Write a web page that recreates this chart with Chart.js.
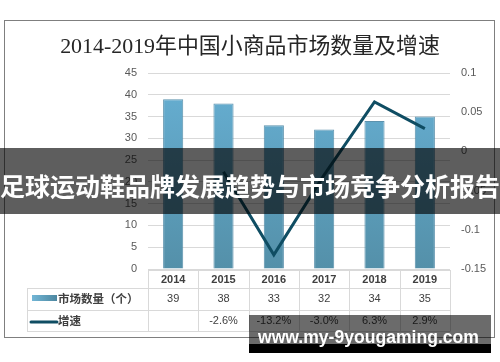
<!DOCTYPE html>
<html><head><meta charset="utf-8">
<script src="https://cdn.jsdelivr.net/npm/chart.js@4.4.1/dist/chart.umd.min.js"></script>
<style>
html,body{margin:0;padding:0;background:#fff;}
#wrap{position:relative;width:500px;height:362px;overflow:hidden;background:#fff;}
#c{position:absolute;left:0;top:0;}
#frame{position:absolute;left:4px;top:20px;width:491px;height:318px;box-sizing:border-box;border:1px solid #7f7f7f;pointer-events:none;}
#title{position:absolute;left:0;top:28px;width:500px;text-align:center;font-family:"Liberation Serif","Noto Sans CJK SC",serif;font-size:24px;color:#262626;white-space:nowrap;line-height:34px;}
#banner{position:absolute;left:0;top:148px;width:500px;height:66px;background:rgba(0,0,0,0.63);}
#banner span{position:absolute;left:0;top:0;width:500px;text-align:center;color:#fff;font-family:"Noto Sans CJK SC",sans-serif;font-weight:bold;font-size:25px;line-height:74px;white-space:nowrap;}
#wm{position:absolute;left:249px;top:315px;width:242px;height:38px;background:linear-gradient(to bottom,rgba(0,0,0,0.58) 0px,rgba(0,0,0,0.58) 29px,#000 29px,#000 38px);}
#wm span{position:absolute;left:9px;top:11px;color:#fff;font-family:"Liberation Sans",Arial,sans-serif;font-weight:bold;font-size:17.5px;line-height:22px;white-space:nowrap;}
</style></head>
<body>
<div id="wrap">
<canvas id="c" width="500" height="362"></canvas>
<div id="frame"></div>
<div id="title"><span id="tt">2014-2019年中国小商品市场数量及增速</span></div>
<div id="banner"><span>足球运动鞋品牌发展趋势与市场竞争分析报告</span></div>
<div id="wm"><span id="wmt">www.my-9yougaming.com</span></div>
</div>
<script>
const categories = ['2014','2015','2016','2017','2018','2019'];
const marketCount = [39, 38, 33, 32, 34, 35];
const growthRate = [null, -0.026, -0.132, -0.030, 0.063, 0.029];
const growthLabels = ['', '-2.6%', '-13.2%', '-3.0%', '6.3%', '2.9%'];
const seriesNames = ['市场数量（个）', '增速'];
const leftTicks = {min: 0, max: 45, step: 5};
const rightTicks = {min: -0.15, max: 0.1, step: 0.05};

const BAR_TOP = '#67b0d4', BAR_BOT = '#5490a9', LINE_C = '#0f4d63';

Chart.defaults.font.family = '"Liberation Sans","Noto Sans CJK SC",sans-serif';

function barGradient(ctx){
  const ch = ctx.chart; const a = ch.chartArea;
  if(!a) return BAR_TOP;
  const g = ch.ctx.createLinearGradient(0, a.top, 0, a.bottom);
  g.addColorStop(0, BAR_TOP); g.addColorStop(1, BAR_BOT);
  return g;
}

const tablePlugin = {
  id: 'dataTable',
  afterDraw(chart){
    const ctx = chart.ctx, a = chart.chartArea, xs = chart.scales.x;
    const n = categories.length;
    const colW = (a.right - a.left) / n;
    const top = a.bottom + 1, r1 = 288, r2 = 310, r3 = 331, legL = 27;
    ctx.save();
    ctx.strokeStyle = '#d9d9d9'; ctx.lineWidth = 1;
    ctx.beginPath();
    const hl = (x1,x2,y)=>{ctx.moveTo(x1, Math.round(y)+0.5); ctx.lineTo(x2, Math.round(y)+0.5);};
    const vl = (x,y1,y2)=>{ctx.moveTo(Math.round(x)+0.5, y1); ctx.lineTo(Math.round(x)+0.5, y2);};
    hl(a.left, a.right, top);
    hl(legL, a.right, r1); hl(legL, a.right, r2); hl(legL, a.right, r3);
    for(let i=0;i<=n;i++){ vl(a.left + i*colW, top, r3+0.5); }
    vl(legL, r1, r3+0.5);
    ctx.stroke();
    ctx.textAlign = 'center'; ctx.textBaseline = 'middle';
    ctx.fillStyle = '#404040';
    ctx.font = 'bold 11px "Liberation Sans","Noto Sans CJK SC",sans-serif';
    categories.forEach((c,i)=>{ ctx.fillText(c, xs.getPixelForValue(i), (top+r1)/2+1); });
    ctx.font = '11px "Liberation Sans","Noto Sans CJK SC",sans-serif';
    marketCount.forEach((v,i)=>{ ctx.fillText(String(v), xs.getPixelForValue(i), (r1+r2)/2); });
    growthLabels.forEach((v,i)=>{ if(v) ctx.fillText(v, xs.getPixelForValue(i), (r2+r3)/2); });
    // legend keys
    const g = ctx.createLinearGradient(32,0,57,0);
    g.addColorStop(0,'#72b6d6'); g.addColorStop(1,'#4d87a0');
    ctx.fillStyle = g; ctx.fillRect(32, 295, 25, 6);
    ctx.strokeStyle = LINE_C; ctx.lineWidth = 3; ctx.lineCap='round';
    ctx.beginPath(); ctx.moveTo(31, 322); ctx.lineTo(57, 322); ctx.stroke();
    ctx.fillStyle = '#404040'; ctx.textAlign='left';
    ctx.font = 'bold 11.5px "Noto Sans CJK SC",sans-serif';
    ctx.fillText(seriesNames[0], 58, (r1+r2)/2);
    ctx.fillText(seriesNames[1], 58, (r2+r3)/2);
    ctx.restore();
  }
};

new Chart(document.getElementById('c'), {
  data: {
    labels: categories,
    datasets: [
      {type:'line', label: seriesNames[1], data: growthRate, yAxisID:'y1', borderColor: LINE_C, borderWidth: 3, pointRadius: 0, tension: 0, order: 0, spanGaps:false},
      {type:'bar', label: seriesNames[0], data: marketCount, yAxisID:'y', backgroundColor: barGradient, borderColor:'rgba(74,134,164,0.9)', borderWidth:1, barPercentage:0.4, categoryPercentage:1, order: 1}
    ]
  },
  options: {
    responsive:false, animation:false,
    layout:{padding:{top:73, bottom:362-269, left:0, right:0}},
    plugins:{legend:{display:false}, title:{display:false}, tooltip:{enabled:false}},
    scales:{
      x:{display:false, offset:true},
      y:{position:'left', min:leftTicks.min, max:leftTicks.max,
         ticks:{stepSize:leftTicks.step, color:'#595959', padding:11, font:{size:11}},
         grid:{color:'#d9d9d9', drawTicks:false}, border:{display:false},
         afterFit(s){ s.width = 148; }},
      y1:{position:'right', min:rightTicks.min, max:rightTicks.max,
         ticks:{stepSize:rightTicks.step, color:'#595959', padding:11, font:{size:11},
           callback:(v)=> String(Math.round(v*100)/100)},
         grid:{display:false, drawTicks:false}, border:{display:false},
         afterFit(s){ s.width = 50; }}
    }
  },
  plugins:[tablePlugin]
});

function fit(el, target){
  const w = el.getBoundingClientRect().width;
  const fs = parseFloat(getComputedStyle(el).fontSize);
  if(w>0) el.style.fontSize = (fs*target/w).toFixed(2)+'px';
}
fit(document.getElementById('tt'), 380);
fit(document.getElementById('wmt'), 221);
</script>
</body></html>
